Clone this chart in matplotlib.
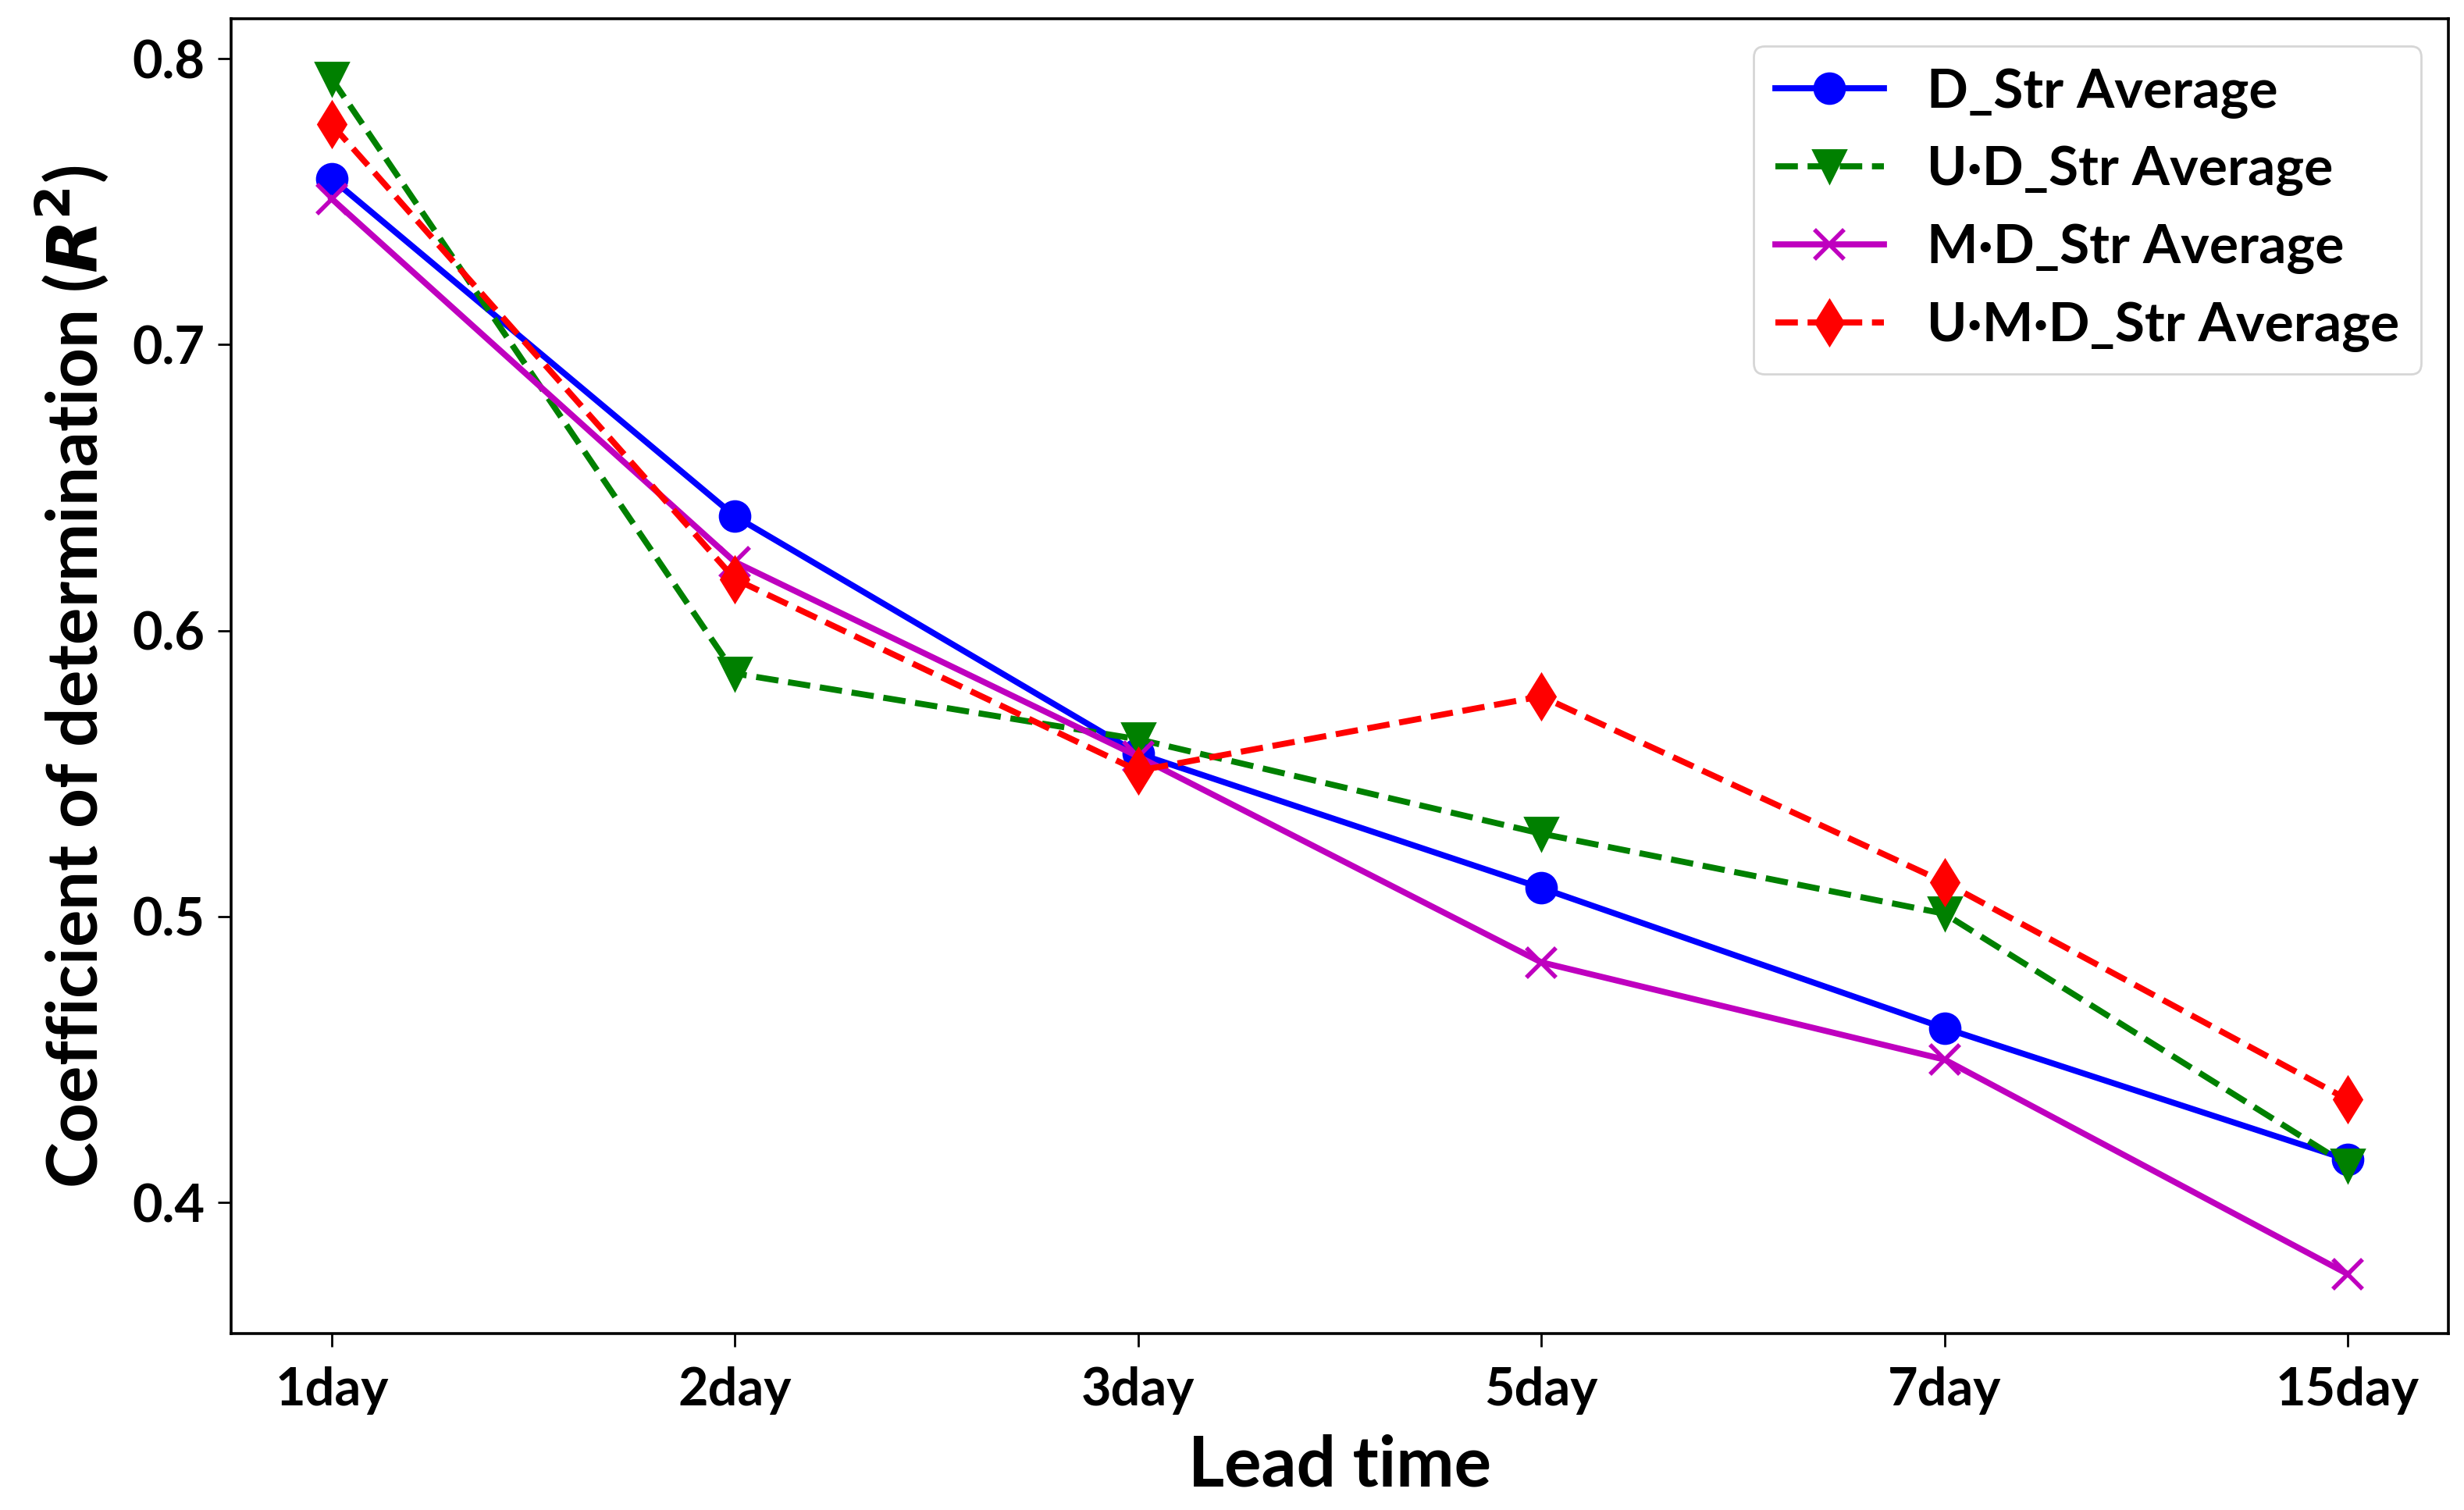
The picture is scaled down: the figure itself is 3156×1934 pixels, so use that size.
import matplotlib
matplotlib.use('Agg')
import matplotlib.pyplot as plt

plt.rcParams['font.family'] = ['Lato', 'Noto Sans CJK KR', 'DejaVu Sans']
plt.rcParams['font.weight'] = 'bold'

# lead times and averaged R^2 values per model
lead_times = ['1day', '2day', '3day', '5day', '7day', '15day']
d_str = [0.758, 0.640, 0.557, 0.510, 0.461, 0.415]
ud_str = [0.793, 0.585, 0.562, 0.529, 0.501, 0.413]
md_str = [0.751, 0.624, 0.556, 0.484, 0.450, 0.375]
umd_str = [0.777, 0.618, 0.551, 0.577, 0.512, 0.436]

fig = plt.figure(figsize=(15.78, 9.67), dpi=200)
ax = fig.add_axes([0.0937, 0.1167, 0.9, 0.8708])

ax.plot(lead_times, d_str, 'b-', marker='o', lw=2.8, ms=14, label='D_Str Average')
ax.plot(lead_times, ud_str, 'g--', marker='v', lw=2.8, ms=15, label='U·D_Str Average')
ax.plot(lead_times, md_str, 'm-', marker='x', lw=2.8, ms=14, mew=2, label='M·D_Str Average')
ax.plot(lead_times, umd_str, 'r--', marker='d', lw=2.8, ms=15, label='U·M·D_Str Average')

ax.set_yticks([0.4, 0.5, 0.6, 0.7, 0.8])
ax.tick_params(labelsize=24, width=1.0, length=6, pad=6)
ax.tick_params(axis='x', pad=9)
for lab in ax.get_xticklabels() + ax.get_yticklabels():
    lab.set_fontweight('bold')
for s in ax.spines.values():
    s.set_linewidth(1.3)

ax.set_xlabel('Lead time', fontsize=32, fontweight='bold', labelpad=9)
ax.set_ylabel(r'Coefficient of determination ($\mathbfit{R}^2$)', fontsize=32,
              fontweight='bold', labelpad=10)

ax.legend(loc='upper right', fontsize=25, handlelength=2.0, handletextpad=0.8,
          borderpad=0.4, labelspacing=0.5)

fig.savefig('out.png', dpi=200)
